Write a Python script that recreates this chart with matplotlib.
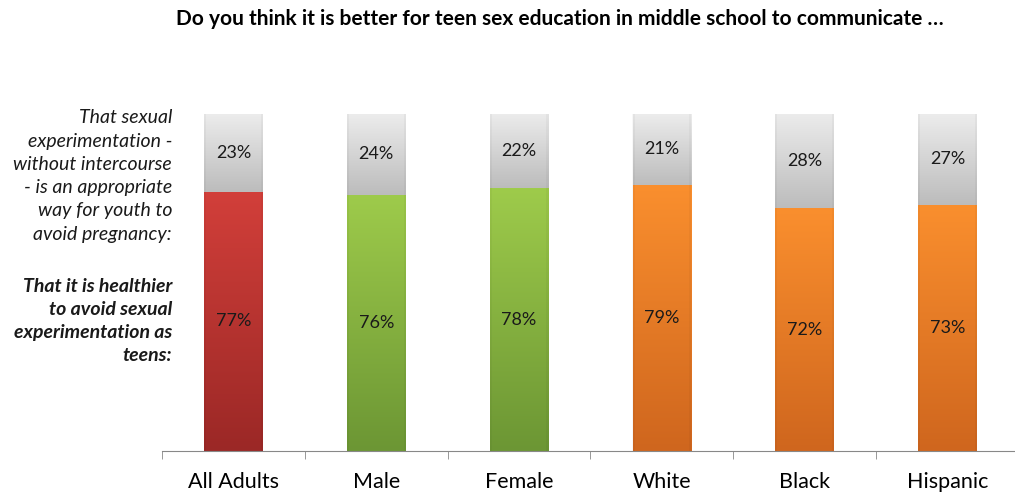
import numpy as np
import matplotlib.pyplot as plt
from matplotlib.colors import LinearSegmentedColormap

groups = ["All Adults", "Male", "Female", "White", "Black", "Hispanic"]
healthier = [77, 76, 78, 79, 72, 73]
experiment = [23, 24, 22, 21, 28, 27]

# top / bottom shades for each bar's lower segment
bar_shades = [
    ("#d23f3a", "#9b2826"),
    ("#9ecb4b", "#6c9634"),
    ("#9ecb4b", "#6c9634"),
    ("#fa8f2e", "#cf661e"),
    ("#fa8f2e", "#cf661e"),
    ("#fa8f2e", "#cf661e"),
]
gray_shade = ("#ececec", "#bcbcbc")

plt.rcParams["font.family"] = ["Lato", "DejaVu Sans"]

W, H = 1015, 493
fig = plt.figure(figsize=(W / 100, H / 100), dpi=100)
ax = fig.add_axes([162 / W, 42 / H, 857 / W, 337 / H])

x = np.arange(len(groups))
width = 0.41
ax.set_xlim(-0.5, len(groups) - 0.5)
ax.set_ylim(0, 100)


def gradient_bar(xc, bottom, height, top_color, bot_color):
    cmap = LinearSegmentedColormap.from_list("g", [bot_color, top_color])
    grad = np.linspace(0, 1, 256).reshape(-1, 1)
    ext = [xc - width / 2, xc + width / 2, bottom, bottom + height]
    ax.imshow(grad, cmap=cmap, origin="lower", extent=ext, aspect="auto", zorder=2)
    # soft edge shading on both sides
    for side in (-1, 1):
        for k in range(4):
            ax.axvspan(xc + side * (width / 2 - 0.004 * k) - 0.002, xc + side * (width / 2 - 0.004 * k) + 0.002,
                       ymin=bottom / 100, ymax=(bottom + height) / 100,
                       color="black", alpha=0.03, lw=0, zorder=3)


for i in range(len(groups)):
    gradient_bar(x[i], 0, healthier[i], *bar_shades[i])
    gradient_bar(x[i], healthier[i], experiment[i], *gray_shade)
    ax.text(x[i], healthier[i] / 2, f"{healthier[i]}%", ha="center", va="center",
            fontsize=13, color="#1a1a1a", zorder=4)
    ax.text(x[i], healthier[i] + experiment[i] / 2, f"{experiment[i]}%", ha="center",
            va="center", fontsize=13, color="#1a1a1a", zorder=4)

ax.set_xticks(x)
ax.set_xticklabels(groups, fontsize=15.5)
ax.set_xticks(np.arange(len(groups) + 1) - 0.5, minor=True)
ax.tick_params(axis="x", which="major", length=0, pad=15)
ax.tick_params(axis="x", which="minor", length=6, color="#888888", direction="out")
ax.set_yticks([])
for s in ("top", "right", "left"):
    ax.spines[s].set_visible(False)
ax.spines["bottom"].set_color("#888888")
ax.set_facecolor("none")

fig.text(560 / W, 1 - 19 / H,
         "Do you think it is better for teen sex education in middle school to communicate \u2026",
         ha="center", va="center", fontsize=15, fontweight="bold")

fig.text(172 / W, 1 - 176 / H,
         "That sexual\nexperimentation -\nwithout intercourse\n- is an appropriate\nway for youth to\navoid pregnancy:",
         ha="right", va="center", fontsize=14, style="italic", linespacing=1.45, color="#1a1a1a")
fig.text(172 / W, 1 - 321 / H,
         "That it is healthier\nto avoid sexual\nexperimentation as\nteens:",
         ha="right", va="center", fontsize=14, style="italic", fontweight="bold",
         linespacing=1.45, color="#1a1a1a")

fig.savefig("out.png", dpi=100)
